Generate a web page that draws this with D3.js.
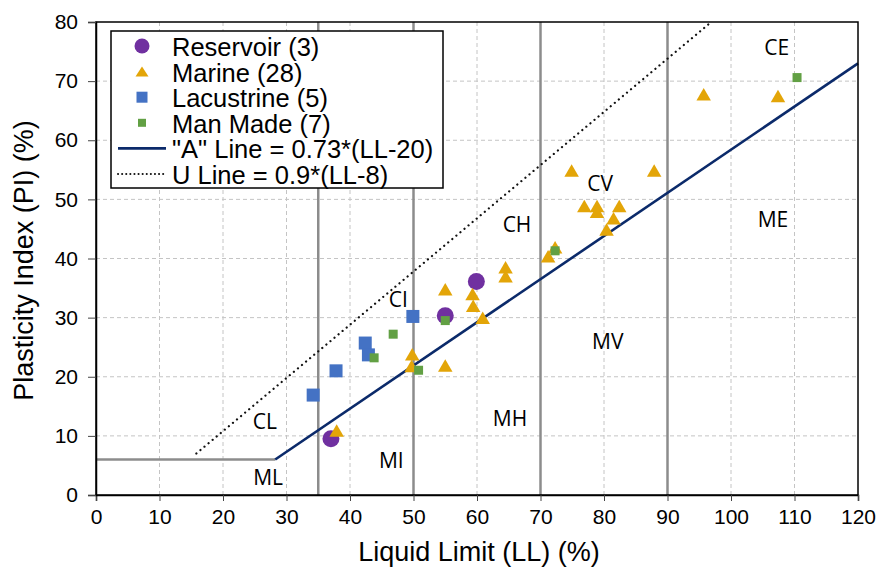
<!DOCTYPE html>
<html>
<head>
<meta charset="utf-8">
<script src="https://cdn.jsdelivr.net/npm/d3@7"></script>
<style>
body{margin:0;background:#fff;}
svg{display:block;}
text{font-family:"Liberation Sans",Arial,sans-serif;fill:#000;}
</style>
</head>
<body>
<svg id="chart" width="879" height="569"></svg>
<script>
// ---- data ----
const xTicks = [0,10,20,30,40,50,60,70,80,90,100,110,120];
const yTicks = [0,10,20,30,40,50,60,70,80];
const reservoirLL = [37.0, 55.0, 59.9];
const reservoirPI = [9.5, 30.3, 36.1];
const marineLL = [37.9,49.8,49.7,55.0,55.0,59.3,59.4,60.9,64.5,64.5,71.2,72.3,74.9,76.9,78.9,78.9,82.4,81.5,80.4,87.9,95.7,107.4];
const marinePI = [10.9,23.8,21.8,21.9,34.8,34.0,32.0,30.0,38.5,37.0,40.4,41.9,54.9,48.9,48.9,47.9,48.9,46.8,44.9,54.9,67.8,67.5];
const lacustrineLL = [34.2, 37.8, 42.4, 42.9, 49.9];
const lacustrinePI = [16.9, 21.0, 25.7, 23.7, 30.2];
const manMadeLL = [46.8, 43.8, 50.8, 55.0, 72.3, 110.4];
const manMadePI = [27.2, 23.2, 21.1, 29.5, 41.3, 70.6];
const boundaryLL = [35, 50, 70, 90];
const legendLabels = ["Reservoir (3)","Marine (28)","Lacustrine (5)","Man Made (7)","\"A\" Line = 0.73*(LL-20)","U Line = 0.9*(LL-8)"];
const zoneNames = ["CL","ML","MI","CI","MH","CH","MV","CV","ME","CE"];
const zoneLL = [26.6,27.1,46.5,47.6,65.2,66.3,80.6,79.4,106.6,107.2];
const zonePI = [12.5,3.0,6.0,33.2,13.0,45.8,26.0,52.8,46.7,75.8];
const aLine = ll => 0.73*(ll-20);
const uLine = ll => 0.9*(ll-8);

// ---- setup ----
const svg = d3.select("#chart");
const x = d3.scaleLinear().domain([0,120]).range([96,858]);
const y = d3.scaleLinear().domain([0,80]).range([495,22]);

// gridlines
const grid = svg.append("g");
grid.selectAll(".vg").data(xTicks.slice(1,-1)).enter().append("line")
  .attr("x1",d=>x(d)).attr("x2",d=>x(d)).attr("y1",y(0)).attr("y2",y(80))
  .attr("stroke","#c4c4c4").attr("stroke-width",1).attr("stroke-dasharray","4,3");
grid.selectAll(".hg").data(yTicks.slice(1,-1)).enter().append("line")
  .attr("y1",d=>y(d)).attr("y2",d=>y(d)).attr("x1",x(0)).attr("x2",x(120))
  .attr("stroke","#c4c4c4").attr("stroke-width",1).attr("stroke-dasharray","4,3");

// boundary lines
svg.selectAll(".bl").data(boundaryLL).enter().append("line")
  .attr("x1",d=>x(d)).attr("x2",d=>x(d)).attr("y1",y(0)).attr("y2",y(80))
  .attr("stroke","#8c8c8c").attr("stroke-width",2.5);
const aStart = 6/0.73+20;
svg.append("line").attr("x1",x(0)).attr("x2",x(aStart)).attr("y1",y(6)).attr("y2",y(6))
  .attr("stroke","#8c8c8c").attr("stroke-width",2.5);

// U line
const uStart = 15.8, uEnd = 80/0.9+8;
svg.append("line").attr("x1",x(uStart)).attr("y1",y(uLine(uStart)))
  .attr("x2",x(uEnd)).attr("y2",y(uLine(uEnd)))
  .attr("stroke","#111").attr("stroke-width",2.2).attr("stroke-linecap","round")
  .attr("stroke-dasharray","0.1,5.2");
// A line
svg.append("line").attr("x1",x(aStart)).attr("y1",y(aLine(aStart)))
  .attr("x2",x(120)).attr("y2",y(aLine(120)))
  .attr("stroke","#0b2a6a").attr("stroke-width",2.6);

// points
const purple="#7030a0", gold="#e3a508", blue="#4472c4", green="#62a044";
const zipPts=(a,b)=>a.map((v,i)=>[v,b[i]]);
svg.selectAll(".res").data(zipPts(reservoirLL,reservoirPI)).enter().append("circle")
  .attr("cx",d=>x(d[0])).attr("cy",d=>y(d[1])).attr("r",8.5).attr("fill",purple);
const triH=12.5, triW=14.5;
const triPath = `M0,${-triH/2}L${triW/2},${triH/2}L${-triW/2},${triH/2}Z`;
svg.selectAll(".mar").data(zipPts(marineLL,marinePI)).enter().append("path")
  .attr("d",triPath).attr("transform",d=>`translate(${x(d[0])},${y(d[1])})`).attr("fill",gold);
svg.selectAll(".lac").data(zipPts(lacustrineLL,lacustrinePI)).enter().append("rect")
  .attr("x",d=>x(d[0])-6.5).attr("y",d=>y(d[1])-6.5).attr("width",13).attr("height",13).attr("fill",blue);
svg.selectAll(".man").data(zipPts(manMadeLL,manMadePI)).enter().append("rect")
  .attr("x",d=>x(d[0])-4.5).attr("y",d=>y(d[1])-4.5).attr("width",9).attr("height",9).attr("fill",green);

// zone labels
svg.selectAll(".zone").data(zoneNames).enter().append("text")
  .attr("x",(d,i)=>x(zoneLL[i])).attr("y",(d,i)=>y(zonePI[i]))
  .attr("text-anchor","middle").attr("dominant-baseline","central")
  .style("font-family","'Open Sans','Noto Sans',sans-serif").style("font-size","21px")
  .text(d=>d);

// frame
svg.append("rect").attr("x",x(0)).attr("y",y(80)).attr("width",x(120)-x(0)).attr("height",y(0)-y(80))
  .attr("fill","none").attr("stroke","#000").attr("stroke-width",1.5);

// axes
const xAxis = svg.append("g").attr("transform",`translate(0,${y(0)})`)
  .call(d3.axisBottom(x).tickValues(xTicks).tickSize(6).tickPadding(8).tickFormat(d3.format("d")));
const yAxis = svg.append("g").attr("transform",`translate(${x(0)},0)`)
  .call(d3.axisLeft(y).tickValues(yTicks).tickSize(8).tickPadding(10).tickFormat(d3.format("d")));
[xAxis,yAxis].forEach(g=>{
  g.select(".domain").attr("stroke","#000").attr("stroke-width",1.5);
  g.selectAll(".tick line").attr("stroke","#444").attr("stroke-width",1);
  g.selectAll(".tick text").style("font-size","21px").style("font-family","'Liberation Sans',Arial,sans-serif").attr("fill","#000");
});

// axis titles
svg.append("text").attr("x",(x(0)+x(120))/2+2).attr("y",561).attr("text-anchor","middle")
  .style("font-size","27px").text("Liquid Limit (LL) (%)");
svg.append("text").attr("transform",`translate(33,${(y(0)+y(80))/2+2}) rotate(-90)`).attr("text-anchor","middle")
  .style("font-size","27px").text("Plasticity Index  (PI) (%)");

// legend
const lg = svg.append("g");
lg.append("rect").attr("x",111).attr("y",31).attr("width",332).attr("height",157)
  .attr("fill","#fff").attr("stroke","#000").attr("stroke-width",1.5);
const rowY = i => 46 + i*25.6;
const symX = 142;
lg.append("circle").attr("cx",symX).attr("cy",rowY(0)).attr("r",7.5).attr("fill",purple);
lg.append("path").attr("d",`M0,-5L6.5,5L-6.5,5Z`).attr("transform",`translate(${symX},${rowY(1)})`).attr("fill",gold);
lg.append("rect").attr("x",symX-5.5).attr("y",rowY(2)-5.5).attr("width",11).attr("height",11).attr("fill",blue);
lg.append("rect").attr("x",symX-4).attr("y",rowY(3)-4).attr("width",8).attr("height",8).attr("fill",green);
lg.append("line").attr("x1",118).attr("x2",166).attr("y1",rowY(4)).attr("y2",rowY(4)).attr("stroke","#0b2a6a").attr("stroke-width",2.6);
lg.append("line").attr("x1",118).attr("x2",164).attr("y1",rowY(5)).attr("y2",rowY(5))
  .attr("stroke","#111").attr("stroke-width",2).attr("stroke-linecap","round").attr("stroke-dasharray","0.1,4");
lg.selectAll(".lt").data(legendLabels).enter().append("text")
  .attr("x",172).attr("y",(d,i)=>rowY(i)+1).attr("dominant-baseline","central")
  .style("font-size","25.5px").text(d=>d);
</script>
</body>
</html>
